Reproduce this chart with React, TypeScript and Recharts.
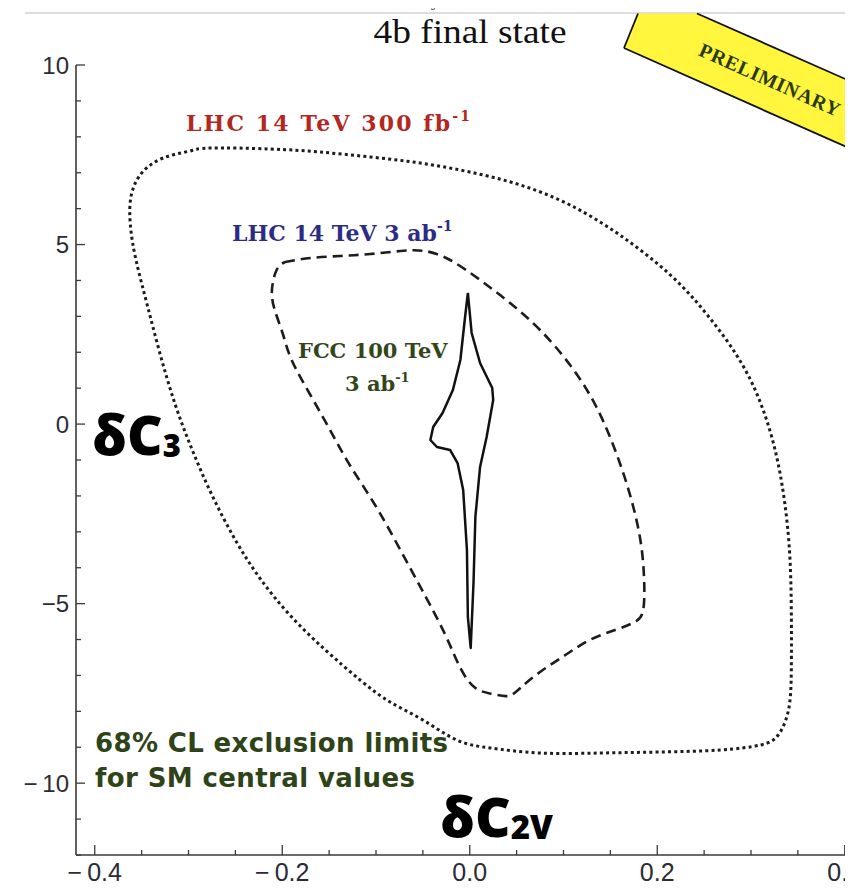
import React from "react";
import { ComposedChart, Line, XAxis, YAxis } from "recharts";

// tick positions and labels
const xTicks = [-0.4, -0.35, -0.3, -0.25, -0.2, -0.15, -0.1, -0.05, 0, 0.05, 0.1, 0.15, 0.2, 0.25, 0.3, 0.35, 0.4];
const xMajor = [-0.4, -0.2, 0, 0.2, 0.4];
const xMajorText = ["\u2212\u20090.4", "\u2212\u20090.2", "0.0", "0.2", "0.4"];
const yTicks = [-12, -11, -10, -9, -8, -7, -6, -5, -4, -3, -2, -1, 0, 1, 2, 3, 4, 5, 6, 7, 8, 9, 10];
const yMajor = [-10, -5, 0, 5, 10];
const yMajorText = ["\u2212\u200910", "\u22125", "0", "5", "10"];

// LHC 14 TeV 300 fb-1 (dotted)
const lhc300 = [
  { x: -0.298, y: 7.605 }, { x: -0.276, y: 7.689 }, { x: -0.213, y: 7.661 }, { x: -0.16, y: 7.577 },
  { x: -0.106, y: 7.438 }, { x: -0.053, y: 7.271 }, { x: 0.0, y: 7.02 }, { x: 0.054, y: 6.658 },
  { x: 0.107, y: 6.101 }, { x: 0.16, y: 5.266 }, { x: 0.214, y: 4.152 }, { x: 0.256, y: 2.955 },
  { x: 0.294, y: 1.506 }, { x: 0.32, y: -0.165 }, { x: 0.334, y: -1.835 }, { x: 0.341, y: -3.506 },
  { x: 0.343, y: -5.177 }, { x: 0.343, y: -6.848 }, { x: 0.34, y: -7.962 }, { x: 0.329, y: -8.658 },
  { x: 0.31, y: -8.937 }, { x: 0.267, y: -9.076 }, { x: 0.203, y: -9.132 }, { x: 0.139, y: -9.16 },
  { x: 0.075, y: -9.16 }, { x: 0.022, y: -9.02 }, { x: -0.014, y: -8.797 }, { x: -0.05, y: -8.24 },
  { x: -0.085, y: -7.739 }, { x: -0.117, y: -7.127 }, { x: -0.154, y: -6.291 }, { x: -0.192, y: -5.316 },
  { x: -0.224, y: -4.286 }, { x: -0.25, y: -3.228 }, { x: -0.275, y: -1.975 }, { x: -0.296, y: -0.721 },
  { x: -0.314, y: 0.532 }, { x: -0.33, y: 1.924 }, { x: -0.344, y: 3.316 }, { x: -0.356, y: 4.57 },
  { x: -0.362, y: 5.544 }, { x: -0.361, y: 6.38 }, { x: -0.349, y: 7.02 }, { x: -0.327, y: 7.41 },
  { x: -0.298, y: 7.605 },
];

// LHC 14 TeV 3 ab-1 (dashed)
const lhc3ab = [
  { x: -0.197, y: 4.514 }, { x: -0.17, y: 4.625 }, { x: -0.138, y: 4.681 }, { x: -0.106, y: 4.737 },
  { x: -0.074, y: 4.82 }, { x: -0.048, y: 4.82 }, { x: -0.021, y: 4.57 }, { x: 0.011, y: 4.013 },
  { x: 0.043, y: 3.372 }, { x: 0.075, y: 2.62 }, { x: 0.107, y: 1.646 }, { x: 0.134, y: 0.532 },
  { x: 0.155, y: -0.721 }, { x: 0.171, y: -1.975 }, { x: 0.182, y: -3.228 }, { x: 0.186, y: -4.342 },
  { x: 0.185, y: -5.177 }, { x: 0.176, y: -5.511 }, { x: 0.155, y: -5.734 }, { x: 0.128, y: -6.013 },
  { x: 0.102, y: -6.43 }, { x: 0.075, y: -6.904 }, { x: 0.054, y: -7.349 }, { x: 0.041, y: -7.572 },
  { x: 0.024, y: -7.516 }, { x: 0.006, y: -7.349 }, { x: -0.01, y: -6.792 }, { x: -0.026, y: -5.873 },
  { x: -0.048, y: -4.759 }, { x: -0.074, y: -3.506 }, { x: -0.101, y: -2.253 }, { x: -0.128, y: -1.139 },
  { x: -0.149, y: -0.165 }, { x: -0.17, y: 0.81 }, { x: -0.19, y: 1.785 }, { x: -0.199, y: 2.481 },
  { x: -0.208, y: 3.177 }, { x: -0.211, y: 3.734 }, { x: -0.206, y: 4.291 }, { x: -0.197, y: 4.514 },
];

// FCC 100 TeV 3 ab-1 (solid)
const fcc100 = [
  { x: -0.002, y: 3.651 }, { x: 0.002, y: 2.537 }, { x: 0.011, y: 1.701 }, { x: 0.024, y: 1.005 },
  { x: 0.025, y: 0.671 }, { x: 0.018, y: -0.359 }, { x: 0.011, y: -1.195 }, { x: 0.006, y: -2.587 },
  { x: 0.004, y: -4.425 }, { x: 0.001, y: -6.235 }, { x: -0.002, y: -5.372 }, { x: -0.003, y: -3.506 },
  { x: -0.007, y: -1.835 }, { x: -0.013, y: -1.084 }, { x: -0.021, y: -0.721 }, { x: -0.035, y: -0.638 },
  { x: -0.042, y: -0.443 }, { x: -0.039, y: -0.081 }, { x: -0.029, y: 0.309 }, { x: -0.018, y: 0.95 },
  { x: -0.01, y: 1.785 }, { x: -0.005, y: 2.982 }, { x: -0.002, y: 3.651 },
];

const axisColor = "#3a3a3a";
const labelColor = "#2b2b35";
const tickFont = "'Liberation Sans', Arial, sans-serif";

const majorIdx = (list: number[], v: number) => list.findIndex((m) => Math.abs(m - v) < 1e-9);

function BottomTick(props: any) {
  const { x, y, payload } = props;
  const i = majorIdx(xMajor, payload.value);
  return (
    <g>
      <line x1={x} x2={x} y1={y} y2={y - (i >= 0 ? 10 : 5)} stroke={axisColor} strokeWidth={1.3} />
      {i >= 0 && (
        <text x={x} y={y + 26} textAnchor="middle" fontSize={25} fontFamily={tickFont} fill={labelColor}>
          {xMajorText[i]}
        </text>
      )}
    </g>
  );
}

function TopTick(props: any) {
  const { x, y, payload } = props;
  const i = majorIdx(xMajor, payload.value);
  return <line x1={x} x2={x} y1={y} y2={y + (i >= 0 ? 9 : 5)} stroke={axisColor} strokeWidth={1.3} />;
}

function LeftTick(props: any) {
  const { x, y, payload } = props;
  const i = majorIdx(yMajor, payload.value);
  return (
    <g>
      <line x1={x} x2={x + (i >= 0 ? 9 : 5)} y1={y} y2={y} stroke={axisColor} strokeWidth={1.3} />
      {i >= 0 && (
        <text x={x - 7} y={y} dy="0.36em" textAnchor="end" fontSize={24} fontFamily={tickFont} fill={labelColor}>
          {yMajorText[i]}
        </text>
      )}
    </g>
  );
}

const serif = "'DejaVu Serif', 'Liberation Serif', serif";
const bold = "'Open Sans', 'DejaVu Sans', sans-serif";

export default function App() {
  return (
    <div style={{ position: "relative", width: 845, height: 885, overflow: "hidden" }}>
      <ComposedChart width={865.5} height={887} margin={{ top: 57, right: 10, left: 8, bottom: 0 }}>
        <XAxis
          xAxisId={0}
          type="number"
          dataKey="x"
          domain={[-0.42, 0.42]}
          allowDataOverflow
          ticks={xTicks}
          interval={0}
          height={40}
          tickSize={0}
          tickMargin={0}
          tickLine={false}
          tick={<BottomTick />}
          axisLine={{ stroke: axisColor, strokeWidth: 1.6 }}
        />
        <XAxis
          xAxisId="top"
          orientation="top"
          type="number"
          dataKey="x"
          domain={[-0.42, 0.42]}
          allowDataOverflow
          ticks={xTicks}
          interval={0}
          height={0}
          tickSize={0}
          tickMargin={0}
          tickLine={false}
          tick={<TopTick />}
          axisLine={{ stroke: axisColor, strokeWidth: 1.6 }}
        />
        <YAxis
          type="number"
          domain={[-12, 10]}
          allowDataOverflow
          ticks={yTicks}
          interval={0}
          width={60}
          tickSize={0}
          tickMargin={0}
          tickLine={false}
          tick={<LeftTick />}
          axisLine={{ stroke: axisColor, strokeWidth: 1.6 }}
        />
        <Line
          data={lhc300}
          dataKey="y"
          type="natural"
          stroke="#1c1c1c"
          strokeWidth={3}
          strokeDasharray="3 3.2"
          dot={false}
          activeDot={false}
          isAnimationActive={false}
        />
        <Line
          data={lhc3ab}
          dataKey="y"
          type="natural"
          stroke="#1c1c1c"
          strokeWidth={2.6}
          strokeDasharray="10 6"
          dot={false}
          activeDot={false}
          isAnimationActive={false}
        />
        <Line
          data={fcc100}
          dataKey="y"
          type="linear"
          stroke="#111"
          strokeWidth={2.5}
          strokeLinejoin="round"
          dot={false}
          activeDot={false}
          isAnimationActive={false}
        />
      </ComposedChart>

      <svg width={845} height={885} style={{ position: "absolute", left: 0, top: 0, pointerEvents: "none" }}>
        <g transform="translate(-8,-8)">
          <line x1={25} y1={13} x2={860} y2={13} stroke="#d2d2d2" strokeWidth={1.5} />
          <text x={441} y={7} fontSize={12} fontStyle="italic" fontFamily={serif} fill="#6b4f2a" textAnchor="middle">
            jet
          </text>
          <text x={470} y={43} textAnchor="middle" fontSize={33} fontFamily="'Liberation Serif', serif" fill="#111" textLength={193} lengthAdjust="spacingAndGlyphs">
            4b final state
          </text>

          <polygon points="638,13.5 697,13.5 860,85.5 860,153 624,48" fill="#fff63d" />
          <line x1={697} y1={13.5} x2={860} y2={85.5} stroke="#111" strokeWidth={1.8} />
          <line x1={638} y1={13.5} x2={624} y2={48} stroke="#111" strokeWidth={1.8} />
          <line x1={624} y1={48} x2={860} y2={153} stroke="#111" strokeWidth={1.8} />
          <text transform="translate(767,86) rotate(24)" textAnchor="middle" fontSize={20} fontWeight={700} fontFamily="'Liberation Serif', serif" fill="#2b3a17" textLength={152} lengthAdjust="spacing">
            PRELIMINARY
          </text>

          <text x={186} y={131} fontSize={22} fontWeight={700} fontFamily={serif} fill="#b3271e" textLength={284} lengthAdjust="spacing">
            LHC 14 TeV 300 fb<tspan fontSize={14} dy={-10}>-1</tspan>
          </text>
          <text x={232} y={241} fontSize={22} fontWeight={700} fontFamily={serif} fill="#2c2c85">
            LHC 14 TeV 3 ab<tspan fontSize={14} dy={-10}>-1</tspan>
          </text>
          <text x={298} y={358} fontSize={21} fontWeight={700} fontFamily={serif} fill="#33461b">
            FCC 100 TeV
          </text>
          <text x={345} y={391} fontSize={21} fontWeight={700} fontFamily={serif} fill="#33461b">
            3 ab<tspan fontSize={13} dy={-9}>-1</tspan>
          </text>

          <text x={92} y={455} fontSize={55} fontWeight={800} fontFamily={bold} fill="#000">
            δC<tspan fontSize={31} dy={2}>3</tspan>
          </text>
          <text x={440} y={837} fontSize={55} fontWeight={800} fontFamily={bold} fill="#000">
            δC<tspan fontSize={33} dy={2}>2V</tspan>
          </text>

          <text x={95} y={752} fontSize={26} fontWeight={700} fontFamily="'DejaVu Sans', sans-serif" fill="#2f4318" textLength={353} lengthAdjust="spacing">
            68% CL exclusion limits
          </text>
          <text x={95} y={787} fontSize={26} fontWeight={700} fontFamily="'DejaVu Sans', sans-serif" fill="#2f4318" textLength={320} lengthAdjust="spacing">
            for SM central values
          </text>
        </g>
      </svg>
    </div>
  );
}
